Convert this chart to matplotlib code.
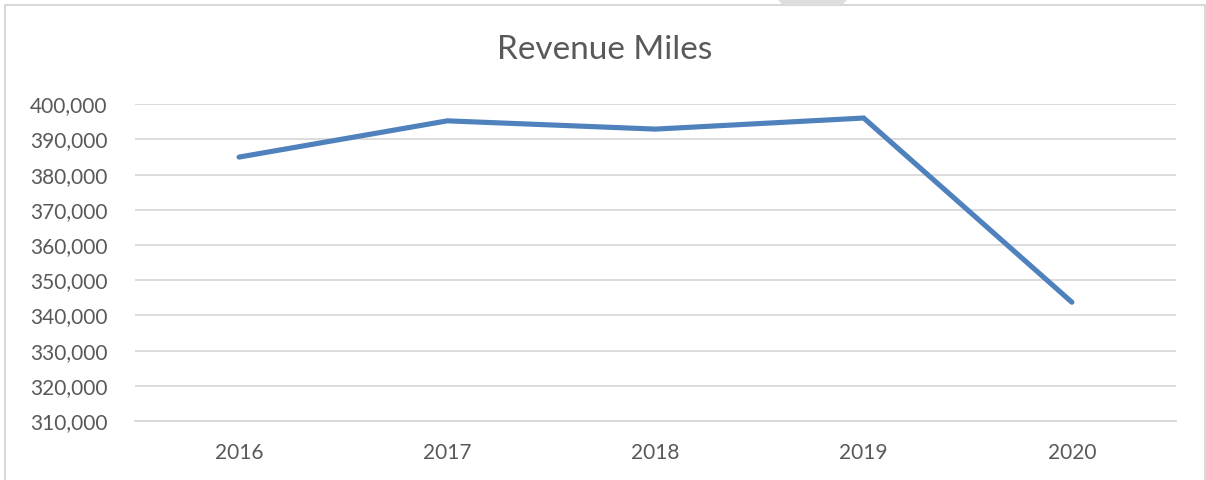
import matplotlib
matplotlib.use('Agg')
import matplotlib.pyplot as plt
from matplotlib.patches import Rectangle, Polygon
from matplotlib.ticker import FuncFormatter, MultipleLocator

# datos
years = ['2016', '2017', '2018', '2019', '2020']
revenue_miles = [385000, 395300, 392950, 396100, 343750]
y_min, y_max, y_step = 310000, 400000, 10000
title = 'Revenue Miles'

plt.rcParams['font.family'] = ['Lato', 'DejaVu Sans']
text_col = '#595959'
grid_col = '#d9d9d9'

W, H = 1206, 480
fig = plt.figure(figsize=(W / 100, H / 100), dpi=100)

# marco del grafico (estilo excel)
fig.patches.append(Rectangle((5 / W, -0.02), 1200 / W, (H - 5) / H + 0.02,
                             transform=fig.transFigure, fill=False,
                             edgecolor=grid_col, linewidth=1.5))
# pestaña gris arriba
fig.patches.append(Polygon([(778 / W, 1.0), (847 / W, 1.0), (842 / W, 1 - 5 / H), (783 / W, 1 - 5 / H)],
                           closed=True, transform=fig.transFigure,
                           facecolor='#dddddd', edgecolor='none'))

ax = fig.add_axes([135 / W, 59 / H, 1041 / W, (421 - 104.3) / H])
x = list(range(len(years)))
ax.plot(x, revenue_miles, color='#4f81bd', linewidth=3.7, solid_capstyle='round',
        solid_joinstyle='miter', zorder=3)

ax.set_xlim(-0.5, len(years) - 0.5)
ax.set_ylim(y_min, y_max)
ax.yaxis.set_major_locator(MultipleLocator(y_step))
ax.yaxis.set_major_formatter(FuncFormatter(lambda v, p: '{:,.0f}'.format(v)))
ax.set_xticks(x)
ax.set_xticklabels(years)

ax.grid(axis='y', color=grid_col, linewidth=1.3)
ax.set_axisbelow(True)
for s in ['top', 'right', 'left']:
    ax.spines[s].set_visible(False)
ax.spines['bottom'].set_color(grid_col)
ax.spines['bottom'].set_linewidth(1.3)
ax.tick_params(axis='both', length=0, labelsize=15, colors=text_col)
ax.tick_params(axis='y', pad=20)
ax.tick_params(axis='x', pad=16)

fig.text((496 + 713) / 2 / W, 1 - 50 / H, title, ha='center', va='center',
         fontsize=24, color=text_col)

fig.savefig('out.png', dpi=100)
